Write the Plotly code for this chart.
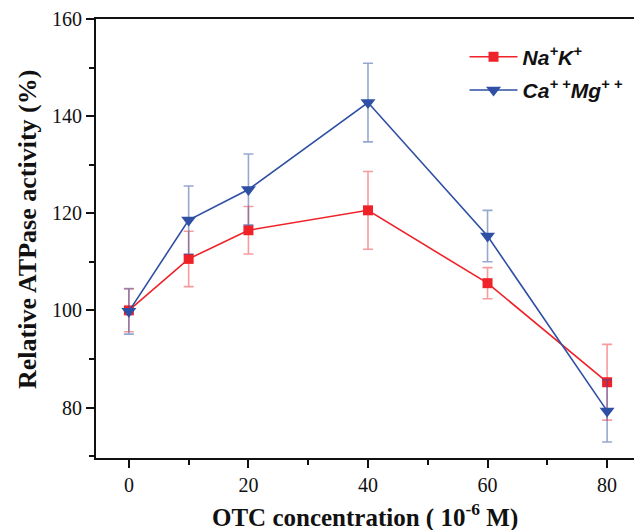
import plotly.graph_objects as go

conc = [0, 10, 20, 40, 60, 80]
nak = [100, 110.6, 116.5, 120.6, 105.6, 85.2]
nak_err = [4.4, 5.7, 4.9, 8.0, 3.2, 7.8]
camg = [99.8, 118.6, 124.9, 142.8, 115.3, 79.3]
camg_err = [4.7, 7.0, 7.3, 8.1, 5.3, 6.4]

RED = "#ee2228"
BLUE = "#2e4fa3"

fig = go.Figure()
fig.add_trace(go.Scatter(
    x=conc, y=nak, mode="lines+markers",
    name="<b><i>Na<sup>+</sup>K<sup>+</sup></i></b>",
    legendgroup="a",
    line=dict(color=RED, width=1.6),
    marker=dict(symbol="square", size=10, color=RED),
    error_y=dict(type="data", array=nak_err, color="rgba(238,34,40,0.45)", thickness=1.6, width=5),
))
fig.add_trace(go.Scatter(
    x=conc, y=camg, mode="lines+markers",
    name="<b><i>Ca<sup>+ +</sup>Mg<sup>+ +</sup></i></b>",
    legendgroup="b",
    line=dict(color=BLUE, width=1.6),
    marker=dict(symbol="triangle-down", size=13, color=BLUE),
    error_y=dict(type="data", array=camg_err, color="rgba(46,79,163,0.5)", thickness=1.6, width=5),
))

fig.update_layout(
    width=634, height=530,
    margin=dict(l=96, r=0, t=19, b=72, autoexpand=False),
    paper_bgcolor="white", plot_bgcolor="white",
    font=dict(family="Liberation Serif", color="#111"),
    showlegend=True,
    legend=dict(x=0.685, y=0.96, xanchor="left", yanchor="top",
                font=dict(family="Liberation Sans", size=21, color="#111"),
                traceorder="grouped", tracegroupgap=3,
                bgcolor="rgba(0,0,0,0)", itemwidth=48),
    xaxis=dict(range=[-5.5, 84.5], tickvals=[0, 20, 40, 60, 80],
               showline=True, linecolor="#111", linewidth=2, mirror=True,
               ticks="outside", ticklen=8, tickwidth=2, tickcolor="#111",
               minor=dict(tickvals=[10, 30, 50, 70], ticks="outside", ticklen=5, tickwidth=2, tickcolor="#111"),
               showgrid=False, zeroline=False, automargin=False,
               tickfont=dict(size=20)),
    yaxis=dict(range=[69.6, 160], tickvals=[80, 100, 120, 140, 160],
               showline=True, linecolor="#111", linewidth=2, mirror=False,
               ticks="outside", ticklen=8, tickwidth=2, tickcolor="#111",
               minor=dict(tickvals=[70, 90, 110, 130, 150], ticks="outside", ticklen=5, tickwidth=2, tickcolor="#111"),
               showgrid=False, zeroline=False, automargin=False,
               tickfont=dict(size=20)),
    annotations=[
        dict(text="<b>OTC concentration ( 10<sup>-6</sup> M)</b>", xref="paper", yref="paper",
             x=(365 - 96) / 538, y=-(515 - 458) / 439, xanchor="center", yanchor="middle",
             showarrow=False, font=dict(size=25, family="Liberation Serif", color="#111")),
        dict(text="<b>Relative ATPase activity (%)</b>", xref="paper", yref="paper",
             x=-(96 - 28) / 538, y=(458 - 230) / 439, xanchor="center", yanchor="middle",
             textangle=-90, showarrow=False,
             font=dict(size=26, family="Liberation Serif", color="#111")),
    ],
)

fig.write_html("out.html", config={"displayModeBar": False},
               post_script="document.body.style.margin='0';document.body.style.padding='0';")
